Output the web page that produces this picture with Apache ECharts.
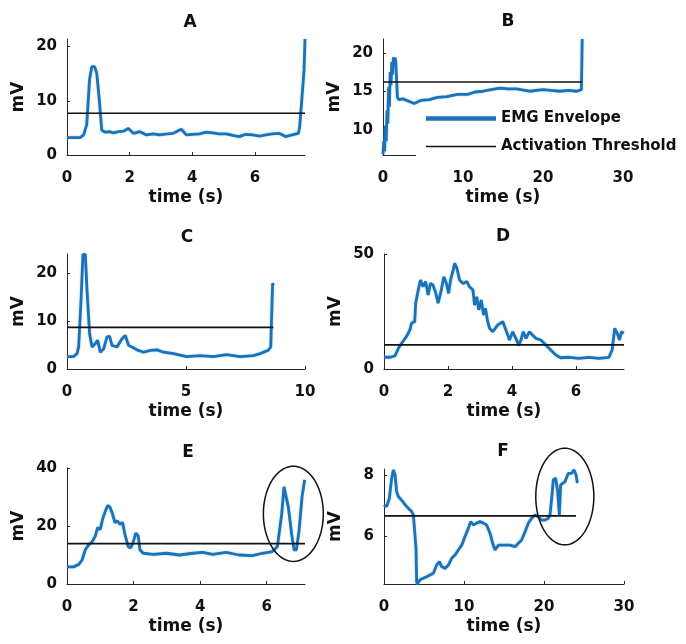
<!DOCTYPE html>
<html>
<head>
<meta charset="utf-8">
<script src="https://cdn.jsdelivr.net/npm/echarts@6/dist/echarts.min.js"></script>
<style>html,body{margin:0;padding:0;background:#fff}#chart{width:686px;height:644px}</style>
</head>
<body>
<div id="chart"></div>
<script>
// ---------------- DATA ----------------
const panelTitles = ['A', 'B', 'C', 'D', 'E', 'F'];

const timeA = [0, 0.42, 0.53, 0.63, 0.72, 0.79, 0.88, 0.95, 1.04, 1.11, 1.22, 1.35, 1.48, 1.65, 1.8, 1.96, 2.12, 2.33, 2.54, 2.75, 2.96, 3.2, 3.39, 3.65, 3.81, 4.0, 4.23, 4.45, 4.66, 4.85, 5.08, 5.3, 5.5, 5.7, 5.93, 6.15, 6.35, 6.55, 6.77, 6.98, 7.25, 7.39, 7.43, 7.49, 7.57, 7.6];
const emgA  = [3.2, 3.2, 3.7, 5.6, 13.9, 16.3, 16.3, 15.1, 9.6, 4.6, 4.2, 4.3, 4.1, 4.3, 4.4, 4.9, 4.0, 4.3, 3.7, 3.9, 3.7, 3.9, 4.0, 4.75, 3.7, 3.8, 3.9, 4.2, 4.1, 3.9, 3.9, 3.6, 3.4, 3.8, 3.7, 3.5, 3.7, 3.9, 4.0, 3.4, 3.8, 4.0, 5.2, 9.6, 15.7, 21.4];
const thresholdA = 7.7, thresholdEndA = 7.6;

const timeB = [0, 0.1, 0.2, 0.3, 0.4, 0.5, 0.6, 0.7, 0.8, 0.9, 1.0, 1.1, 1.2, 1.3, 1.4, 1.5, 1.6, 1.7, 1.8, 2.0, 2.5, 3.0, 3.9, 4.7, 5.8, 6.8, 8.0, 9.3, 10.6, 11.5, 12.5, 13.5, 14.6, 15.6, 16.7, 18.3, 20.0, 21.0, 22.1, 23.2, 24.2, 24.8, 24.9];
const emgB  = [6.8, 8.5, 7.2, 10.5, 8.5, 12.5, 10.8, 15.5, 13, 17.5, 15.8, 18.8, 17.2, 19.4, 18.3, 19.4, 18.8, 16.5, 14.2, 13.9, 14.0, 13.8, 13.4, 13.8, 13.9, 14.2, 14.3, 14.6, 14.6, 14.9, 15.0, 15.2, 15.4, 15.3, 15.3, 15.0, 15.2, 15.1, 15.0, 15.1, 15.0, 15.2, 21.8];
const thresholdB = 16.2, thresholdEndB = 24.9;

const timeC = [0, 0.28, 0.42, 0.49, 0.59, 0.67, 0.77, 0.84, 0.95, 1.05, 1.19, 1.29, 1.4, 1.54, 1.68, 1.79, 1.89, 2.1, 2.31, 2.45, 2.59, 2.73, 2.94, 3.22, 3.5, 3.78, 4.06, 4.48, 5.03, 5.59, 6.15, 6.71, 7.27, 7.83, 8.11, 8.46, 8.56, 8.64, 8.67];
const emgC  = [2.6, 2.6, 3.2, 4.6, 14.4, 23.9, 23.9, 16.5, 7.4, 4.6, 5.3, 6.0, 3.5, 4.2, 6.7, 6.8, 4.9, 4.6, 6.3, 7.0, 4.9, 4.6, 4.0, 3.5, 3.9, 4.0, 3.5, 3.2, 2.6, 2.8, 2.6, 3.0, 2.6, 2.8, 3.2, 3.9, 4.6, 17.9, 17.5];
const thresholdC = 8.7, thresholdEndC = 8.67;

const timeD = [0, 0.19, 0.34, 0.45, 0.55, 0.7, 0.81, 0.86, 0.96, 0.99, 1.07, 1.14, 1.22, 1.3, 1.38, 1.45, 1.53, 1.62, 1.69, 1.79, 1.87, 1.95, 2.02, 2.08, 2.16, 2.21, 2.28, 2.36, 2.47, 2.59, 2.67, 2.78, 2.83, 2.9, 2.96, 3.04, 3.11, 3.17, 3.24, 3.3, 3.4, 3.55, 3.71, 3.81, 3.92, 4.02, 4.12, 4.21, 4.28, 4.35, 4.44, 4.54, 4.64, 4.75, 4.9, 5.06, 5.21, 5.37, 5.52, 5.78, 6.09, 6.4, 6.72, 7.03, 7.13, 7.21, 7.29, 7.36, 7.42, 7.49];
const emgD  = [5.1, 5.1, 5.7, 9.0, 11.2, 14.1, 17.0, 19.9, 20.6, 28.6, 34.3, 38.7, 35.8, 38.0, 32.2, 37.2, 36.5, 32.9, 28.6, 34.3, 40.1, 37.2, 32.9, 38.7, 43.0, 45.9, 43.8, 38.7, 37.2, 38.0, 35.8, 34.3, 27.8, 31.4, 25.7, 30.0, 23.5, 26.4, 20.6, 17.7, 16.2, 19.1, 20.6, 17.0, 12.6, 16.2, 13.3, 10.4, 12.6, 16.2, 13.3, 16.2, 14.8, 13.3, 12.6, 10.4, 8.3, 6.1, 4.9, 5.1, 4.6, 5.1, 4.6, 5.1, 8.3, 17.7, 15.5, 12.6, 16.2, 15.5];
const thresholdD = 10.5, thresholdEndD = 7.5;

const timeE = [0, 0.2, 0.35, 0.45, 0.55, 0.65, 0.75, 0.85, 0.92, 1.0, 1.07, 1.14, 1.22, 1.29, 1.37, 1.44, 1.51, 1.59, 1.67, 1.74, 1.84, 1.91, 1.99, 2.07, 2.14, 2.19, 2.29, 2.59, 2.99, 3.38, 3.78, 4.08, 4.38, 4.78, 5.17, 5.57, 5.87, 6.17, 6.32, 6.45, 6.52, 6.57, 6.65, 6.75, 6.82, 6.89, 6.97, 7.06, 7.14];
const emgE  = [5.9, 5.9, 6.7, 8.2, 11.8, 13.5, 14.5, 16.5, 19.4, 18.8, 22.4, 24.7, 27.1, 26.5, 24.1, 21.2, 21.8, 20.6, 21.2, 17.1, 12.9, 12.4, 14.5, 17.6, 16.5, 11.8, 10.6, 10.2, 10.6, 10.0, 10.6, 10.9, 10.2, 10.9, 10.0, 9.8, 10.6, 11.2, 12.9, 24.1, 33.5, 34.1, 26.5, 17.1, 11.8, 11.8, 18.2, 30.0, 35.9];
const thresholdE = 13.9, thresholdEndE = 7.15;

const timeF = [0, 0.33, 0.67, 0.96, 1.17, 1.38, 1.58, 1.79, 2.0, 2.33, 2.63, 3.04, 3.46, 3.67, 3.88, 4.0, 4.08, 4.17, 4.5, 5.33, 6.17, 6.58, 6.92, 7.21, 7.63, 8.04, 8.46, 8.88, 9.29, 9.71, 10.13, 10.54, 10.83, 11.17, 11.58, 12.0, 12.42, 12.83, 13.25, 13.58, 13.88, 14.29, 14.92, 15.75, 16.38, 16.79, 17.21, 17.63, 18.04, 18.46, 18.88, 19.29, 19.71, 20.13, 20.54, 20.75, 20.96, 21.17, 21.46, 21.71, 21.92, 22.08, 22.33, 22.63, 23.04, 23.46, 23.75, 24.0, 24.17];
const emgF  = [7.02, 6.96, 7.23, 7.89, 8.16, 8.0, 7.45, 7.29, 7.34, 7.13, 7.02, 6.91, 6.8, 6.69, 6.63, 5.6, 4.5, 4.43, 4.57, 4.67, 4.78, 5.05, 5.16, 5.0, 4.94, 5.05, 5.27, 5.38, 5.54, 5.7, 5.98, 6.25, 6.47, 6.36, 6.42, 6.47, 6.42, 6.36, 6.09, 5.76, 5.54, 5.7, 5.7, 5.7, 5.65, 5.76, 5.87, 6.14, 6.42, 6.58, 6.69, 6.63, 6.52, 6.52, 6.58, 6.69, 7.23, 7.84, 7.89, 7.45, 6.69, 7.67, 7.62, 7.78, 8.05, 8.05, 8.16, 8.0, 7.73];
const thresholdF = 6.66, thresholdEndF = 24.0;

// axis limits
const xRangeA = [0, 7.6],  yRangeA = [0, 21.4];
const xRangeB = [0, 30],   yRangeB = [6.7, 21.8];
const xRangeC = [0, 10],   yRangeC = [0, 24];
const xRangeD = [0, 7.5],  yRangeD = [0, 50];
const xRangeE = [0, 7.15], yRangeE = [0, 40];
const xRangeF = [0, 30],   yRangeF = [4.43, 8.19];

// tick labels
const xTicksA = [0, 2, 4, 6],     yTicksA = [0, 10, 20];
const xTicksB = [0, 10, 20, 30],  yTicksB = [10, 15, 20];
const xTicksC = [0, 5, 10],       yTicksC = [0, 10, 20];
const xTicksD = [0, 2, 4, 6],     yTicksD = [0, 50];
const xTicksE = [0, 2, 4, 6],     yTicksE = [0, 20, 40];
const xTicksF = [0, 10, 20, 30],  yTicksF = [6, 8];

// highlighted regions: [centre time, centre mV, half-width s, half-height mV]
const ellipseE = [6.8, 24.2, 0.9, 16.4];
const ellipseF = [22.6, 7.29, 3.63, 1.58];

const seriesNames = ['EMG Envelope', 'Activation Threshold'];
const xAxisName = 'time (s)';
const yAxisName = 'mV';

// ---------------- LAYOUT / STYLE ----------------
const FONT = 'DejaVu Sans';
const TEXT = '#111';
const BLUE = '#1a72b9';
const layout = [
  {left: 67,  top: 39,  width: 238, height: 116, tx: 190, ty: 23},
  {left: 383, top: 39,  width: 240, height: 116, tx: 508, ty: 22},
  {left: 67,  top: 254, width: 238, height: 115, tx: 187, ty: 238},
  {left: 384, top: 254, width: 240, height: 115, tx: 503, ty: 237},
  {left: 67,  top: 468, width: 238, height: 116, tx: 188, ty: 453},
  {left: 384, top: 469, width: 240, height: 115, tx: 503, ty: 452}
];

const panels = [
  {time: timeA, emg: emgA, thr: thresholdA, thrEnd: thresholdEndA, xr: xRangeA, yr: yRangeA, xt: xTicksA, yt: yTicksA, ell: null},
  {time: timeB, emg: emgB, thr: thresholdB, thrEnd: thresholdEndB, xr: xRangeB, yr: yRangeB, xt: xTicksB, yt: yTicksB, ell: null},
  {time: timeC, emg: emgC, thr: thresholdC, thrEnd: thresholdEndC, xr: xRangeC, yr: yRangeC, xt: xTicksC, yt: yTicksC, ell: null},
  {time: timeD, emg: emgD, thr: thresholdD, thrEnd: thresholdEndD, xr: xRangeD, yr: yRangeD, xt: xTicksD, yt: yTicksD, ell: null},
  {time: timeE, emg: emgE, thr: thresholdE, thrEnd: thresholdEndE, xr: xRangeE, yr: yRangeE, xt: xTicksE, yt: yTicksE, ell: ellipseE},
  {time: timeF, emg: emgF, thr: thresholdF, thrEnd: thresholdEndF, xr: xRangeF, yr: yRangeF, xt: xTicksF, yt: yTicksF, ell: ellipseF}
];

function tickFormatter(ticks) {
  return function (v) {
    return ticks.some(t => Math.abs(t - v) < 1e-9) ? String(v) : '';
  };
}

const grids = [], xAxes = [], yAxes = [], series = [], titles = [];
const axisLineStyle = {color: '#262626', width: 1};

panels.forEach((p, i) => {
  const L = layout[i];
  grids.push({left: L.left, top: L.top, width: L.width, height: L.height, containLabel: false, outerBoundsMode: 'none'});
  titles.push({
    text: panelTitles[i], left: L.tx, top: L.ty - 9, textAlign: 'center', padding: 0,
    textStyle: {fontFamily: FONT, fontWeight: 'bold', fontSize: 17, color: TEXT, lineHeight: 18}
  });
  xAxes.push({
    type: 'value', gridIndex: i, min: p.xr[0], max: p.xr[1],
    name: xAxisName, nameLocation: 'middle', nameGap: 34,
    nameTextStyle: {fontFamily: FONT, fontWeight: 'bold', fontSize: 17, color: TEXT},
    axisLine: {show: true, onZero: false, lineStyle: axisLineStyle},
    axisTick: {show: true, inside: true, length: 3, customValues: p.xt, lineStyle: axisLineStyle},
    axisLabel: {customValues: p.xt, formatter: tickFormatter(p.xt), margin: 16, fontFamily: FONT, fontWeight: 'bold', fontSize: 15, color: TEXT, showMinLabel: true, showMaxLabel: true},
    splitLine: {show: false}
  });
  yAxes.push({
    type: 'value', gridIndex: i, min: p.yr[0], max: p.yr[1],
    name: yAxisName, nameLocation: 'middle', nameGap: 40, nameRotate: 90,
    nameTextStyle: {fontFamily: FONT, fontWeight: 'bold', fontSize: 17, color: TEXT},
    axisLine: {show: true, onZero: false, lineStyle: axisLineStyle},
    axisTick: {show: true, inside: true, length: 3, customValues: p.yt, lineStyle: axisLineStyle},
    axisLabel: {customValues: p.yt, formatter: tickFormatter(p.yt), margin: 10, fontFamily: FONT, fontWeight: 'bold', fontSize: 15, color: TEXT},
    splitLine: {show: false}
  });
  series.push({
    name: seriesNames[0], type: 'line', xAxisIndex: i, yAxisIndex: i,
    data: p.time.map((t, k) => [t, p.emg[k]]),
    symbol: 'none', showSymbol: false, smooth: false, z: 3,
    lineStyle: {color: BLUE, width: 2.8, shadowColor: 'rgba(90,160,220,0.55)', shadowBlur: 2},
    itemStyle: {color: BLUE}
  });
  series.push({
    name: seriesNames[1], type: 'line', xAxisIndex: i, yAxisIndex: i,
    data: [[0, p.thr], [p.thrEnd, p.thr]],
    symbol: 'none', showSymbol: false, z: 4,
    lineStyle: {color: '#111', width: 1.7},
    itemStyle: {color: '#111'}
  });
  if (p.ell) {
    series.push({
      name: 'highlight', type: 'custom', xAxisIndex: i, yAxisIndex: i, clip: false, z: 5,
      data: [p.ell],
      renderItem: function (params, api) {
        const c = api.coord([api.value(0), api.value(1)]);
        const e = api.coord([api.value(0) + api.value(2), api.value(1) + api.value(3)]);
        const rx = Math.abs(e[0] - c[0]), ry = Math.abs(e[1] - c[1]);
        const pts = [];
        for (let k = 0; k < 96; k++) {
          const a = k / 96 * Math.PI * 2;
          pts.push([c[0] + rx * Math.cos(a), c[1] + ry * Math.sin(a)]);
        }
        return {type: 'polygon', shape: {points: pts}, style: {fill: 'none', stroke: '#111', lineWidth: 1.5}};
      }
    });
  }
});

const option = {
  animation: false,
  backgroundColor: '#fff',
  title: titles,
  legend: {
    selectedMode: false,
    orient: 'vertical', left: 416, top: 106,
    padding: [5, 5, 5, 10], itemGap: 13,
    itemWidth: 70, itemHeight: 14,
    symbolKeepAspect: true,
    backgroundColor: '#fff', z: 10,
    textStyle: {fontFamily: FONT, fontWeight: 'bold', fontSize: 15, color: TEXT},
    data: [
      {name: seriesNames[0], icon: 'path://M0,0H70V4.5H0Z', itemStyle: {color: BLUE, borderWidth: 0}},
      {name: seriesNames[1], icon: 'path://M0,0H70V1.6H0Z', itemStyle: {color: '#111', borderWidth: 0}}
    ]
  },
  grid: grids,
  xAxis: xAxes,
  yAxis: yAxes,
  series: series
};

const chart = echarts.init(document.getElementById('chart'), null, {renderer: 'canvas'});
chart.setOption(option);
</script>
</body>
</html>
